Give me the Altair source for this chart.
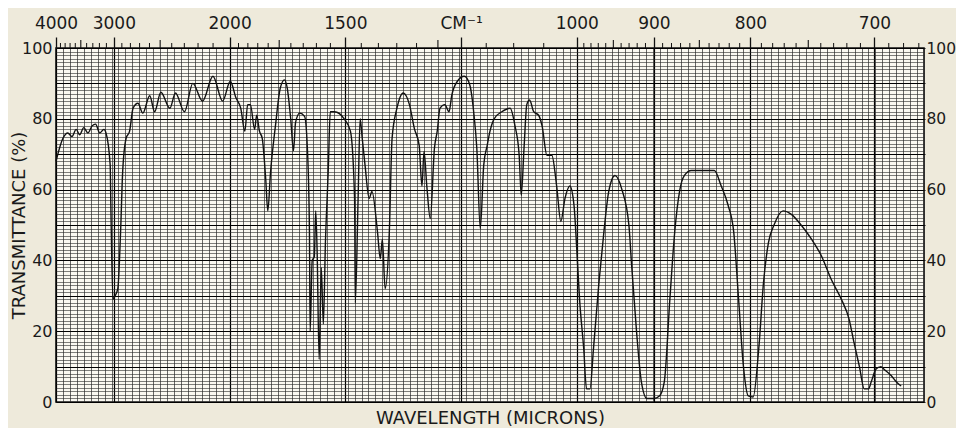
import altair as alt
import pandas as pd

# ---- spectrum (wavelength in microns, transmittance %) ----
wavelength_um = [
    2.50, 2.60, 2.67, 2.73, 2.79, 2.84, 2.90, 2.96, 3.02, 3.07, 3.13, 3.19, 3.22,
    3.28, 3.29, 3.32, 3.35, 3.39, 3.43, 3.46, 3.51, 3.56, 3.61, 3.68, 3.75, 3.85,
    3.92, 4.01, 4.14, 4.22, 4.35, 4.47, 4.61, 4.76, 4.90, 5.01, 5.09, 5.16, 5.22,
    5.26, 5.30, 5.36, 5.39, 5.43, 5.47, 5.52, 5.55, 5.59, 5.66, 5.73, 5.79, 5.83,
    5.88, 5.92, 5.95, 6.01, 6.08, 6.12, 6.15, 6.16, 6.19, 6.22, 6.24, 6.26, 6.29,
    6.32, 6.35, 6.38, 6.42, 6.45, 6.51, 6.65, 6.74, 6.80, 6.81, 6.85, 6.88, 6.91,
    6.95, 7.01, 7.05, 7.13, 7.17, 7.20, 7.24, 7.30, 7.34, 7.41, 7.50, 7.59, 7.66,
    7.73, 7.77, 7.80, 7.84, 7.89, 7.95, 7.99, 8.03, 8.10, 8.16, 8.20, 8.28, 8.38,
    8.46, 8.52, 8.56, 8.61, 8.66, 8.71, 8.75, 8.81, 8.92, 9.04, 9.11, 9.17, 9.20,
    9.24, 9.28, 9.32, 9.38, 9.45, 9.50, 9.57, 9.64, 9.71, 9.77, 9.83, 9.90, 9.96,
    10.00, 10.04, 10.10, 10.14, 10.19, 10.24, 10.32, 10.39, 10.46, 10.55, 10.65,
    10.75, 10.79, 10.86, 10.93, 11.01, 11.11, 11.19, 11.26, 11.34, 11.41, 11.48,
    11.55, 11.65, 11.98, 12.08, 12.18, 12.26, 12.33, 12.40, 12.47, 12.54, 12.62,
    12.69, 12.76, 12.84, 12.97, 13.09, 13.23, 13.38, 13.52, 13.66, 13.81, 13.92,
    13.99, 14.07, 14.14, 14.20, 14.24, 14.31, 14.38, 14.42, 14.53, 14.60, 14.67,
]
transmittance = [
    68, 74.5, 76, 75, 77, 75.5, 77.5, 76, 78, 78.5, 76, 77, 76,
    67, 55.5, 29, 30, 32, 48, 65, 74.5, 76.5, 83, 84.4, 81.6, 86.5,
    82, 87.5, 83, 87.3, 82, 90, 85, 92, 85, 90.6, 86, 83, 76.5,
    84, 84, 77, 81, 76.5, 74.5, 63, 54, 65, 78, 88.7, 91, 88.7,
    80, 71, 79, 81.6, 80.7, 71.7, 48, 20, 40, 41, 54, 43, 12,
    38, 22, 45, 65, 82, 82, 80, 76.5, 57.5, 28, 57, 80, 74.5,
    67, 57.5, 59.5, 48, 40.5, 46, 32, 48, 74.5, 83, 87.3, 84, 77.3,
    72.5, 61, 70.8, 61, 51.8, 71.7, 76.5, 83, 84, 82, 86.7, 90.6, 92,
    89.5, 81, 71.7, 49, 67, 72.5, 76.5, 80, 82, 83, 78, 69.7, 58.4,
    71.7, 84, 85.3, 82, 81, 78, 69.7, 69.7, 61, 51, 57.5, 61, 55.5,
    43, 29, 15, 3.7, 3.7, 15, 34, 48, 59.5, 64, 60,
    50, 38.5, 20, 5.7, 1, 1, 1.7, 5.7, 29, 48, 59.5,
    64, 65.4, 65.4, 61, 55.5, 48, 29, 10, 1.7, 1.4, 15,
    34, 45, 50, 54, 53, 50, 46, 41.4, 34.8, 29, 23.5,
    17, 10, 3.7, 3.7, 5.7, 9.3, 10, 9.3, 7.4, 5.7, 4.5,
]

# ---- top (wavenumber) axis ----
label_wn = [4000, 3000, 2000, 1500, 1000, 900, 800, 700]
unit_wn = 1200                      # where the "CM⁻¹" caption sits
medium_wn = [3500, 2500, 1750, 1250, 950, 850, 750]
skip = set(label_wn + medium_wn + [unit_wn])
minor_wn = ([w for w in range(3900, 2000, -100) if w not in skip]
            + [w for w in range(1950, 1000, -50) if w not in skip]
            + [w for w in range(990, 660, -10) if w not in skip])

# ---- grid values (chart paper) ----
fine_um = [round(2.5 + 0.1 * i, 2) for i in range(126)]
fine_T = list(range(0, 101, 1))
heavy_T = list(range(0, 101, 10))

FONT = "DejaVu Sans"
INK = "#1a1a1a"

spec_df = pd.DataFrame({"um": wavelength_um, "T": transmittance})
xs = alt.Scale(domain=[2.5, 15], nice=False, zero=False)
ys = alt.Scale(domain=[0, 100], nice=False, zero=False)

label_list = ",".join(str(w) for w in label_wn)
top_label_expr = (
    f"indexof([{label_list}], round(10000/datum.value)) >= 0 ? "
    f"'' + round(10000/datum.value) : "
    f"(round(10000/datum.value) == {unit_wn} ? 'CM⁻¹' : '')"
)

spectrum = alt.Chart(spec_df).mark_line(
    color="#111111", strokeWidth=1.4, interpolate="monotone"
).encode(
    x=alt.X("um:Q", scale=xs, axis=alt.Axis(
        orient="bottom", values=fine_um, labels=False, ticks=False, domain=False,
        grid=True, gridColor="#2a2a2a", gridWidth=0.7,
        title="WAVELENGTH (MICRONS)", titlePadding=7,
        titleFont=FONT, titleFontSize=18, titleFontWeight="normal", titleColor=INK)),
    y=alt.Y("T:Q", scale=ys, axis=alt.Axis(
        orient="left", values=fine_T,
        labelExpr="datum.value % 20 == 0 ? datum.label : ''",
        labelOverlap=False, labelFont=FONT, labelFontSize=16, labelColor=INK,
        labelPadding=4, ticks=False, domain=False,
        grid=True, gridColor="#2a2a2a", gridWidth=0.6,
        title="TRANSMITTANCE (%)", titleFont=FONT, titleFontSize=18,
        titleFontWeight="normal", titleColor=INK,
        titleX=-37, titleY=177, titleAngle=270, titleAlign="center",
        titleBaseline="middle")),
)

frame = alt.Chart(spec_df).mark_line(opacity=0).encode(
    x=alt.X("um:Q", scale=xs, axis=alt.Axis(
        orient="top", values=[10000 / w for w in label_wn + [unit_wn]],
        labelExpr=top_label_expr, labelOverlap=False, labelFlush=False,
        labelFont=FONT, labelFontSize=17, labelColor=INK, labelPadding=5,
        tickSize=11, tickColor="#111", tickWidth=1.3, domain=False,
        grid=True, gridColor="#000", gridWidth=1.2, title=None)),
    y=alt.Y("T:Q", scale=ys, axis=alt.Axis(
        orient="right", values=heavy_T,
        labelExpr="datum.value % 20 == 0 ? datum.label : ''",
        labelOverlap=False, labelFont=FONT, labelFontSize=15.5, labelColor=INK,
        labelPadding=1, tickSize=1, tickColor="#111", domain=False,
        grid=True, gridColor="#000", gridWidth=1.1, title=None)),
)

medium_ticks = alt.Chart(pd.DataFrame({"wn": medium_wn})).transform_calculate(
    um="10000 / datum.wn"
).mark_rule(color="#111", strokeWidth=1.1).encode(
    x=alt.X("um:Q", scale=xs, axis=None), y=alt.value(-8), y2=alt.value(0))

minor_ticks = alt.Chart(pd.DataFrame({"wn": minor_wn})).transform_calculate(
    um="10000 / datum.wn"
).mark_rule(color="#111", strokeWidth=1.0).encode(
    x=alt.X("um:Q", scale=xs, axis=None), y=alt.value(-5), y2=alt.value(0))

chart = alt.layer(spectrum, frame, medium_ticks, minor_ticks).resolve_axis(
    x="independent", y="independent"
).properties(
    width=868, height=354,
    autosize=alt.AutoSizeParams(type="none"),
    padding={"left": 48, "top": 40, "right": 32, "bottom": 26},
    background="#eeeadb",
).configure_view(stroke="#111", strokeWidth=1.6, fill="#fbf9f1")

chart.save("out.html", embed_options={"renderer": "svg", "actions": False})
